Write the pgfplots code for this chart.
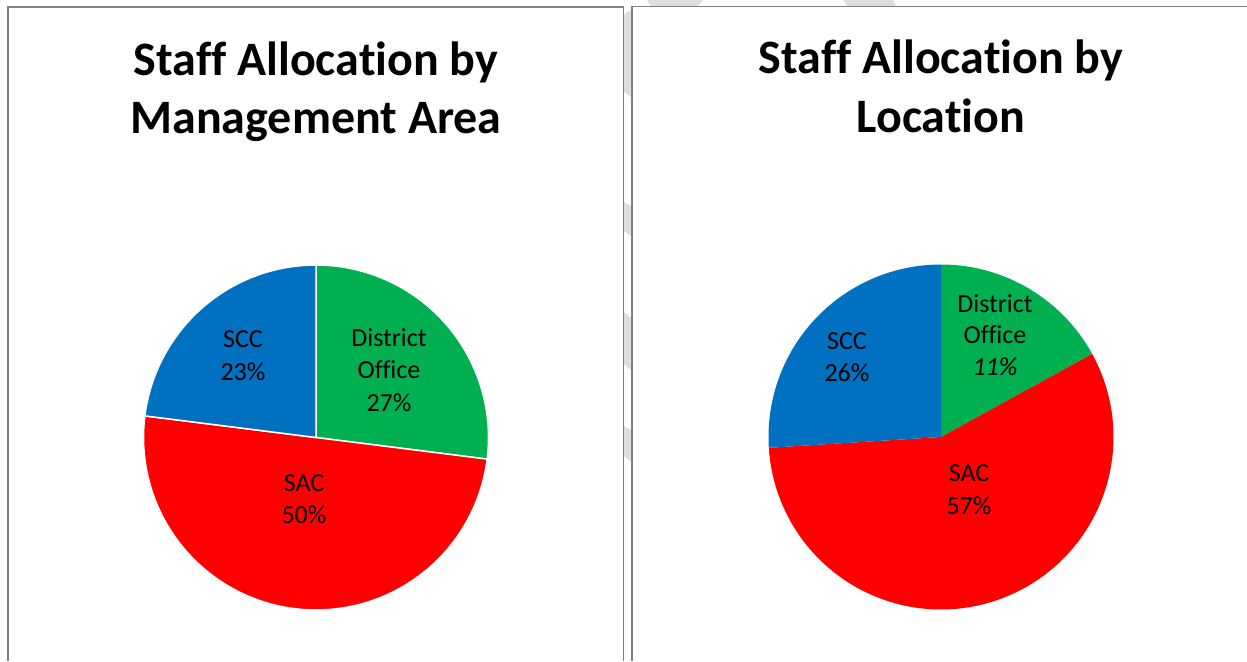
\documentclass[border=0pt]{standalone}
\usepackage{pgfplots}
\pgfplotsset{compat=1.18}
\usepackage{pgfplotstable}
\usepackage{fontspec}
\setmainfont{Carlito}[Ligatures=NoCommon]
\definecolor{pgreen}{RGB}{0,176,80}
\definecolor{pred}{RGB}{255,0,0}
\definecolor{pblue}{RGB}{0,112,192}
\definecolor{framegray}{RGB}{128,128,128}
\definecolor{wm}{RGB}{222,222,222}

% Staff allocation by management area (percent)
\pgfplotstableread{
area value
District 27
SAC 50
SCC 23
}\mgmt
% Staff allocation by location (slice sizes as drawn)
\pgfplotstableread{
area value
District 17
SAC 57
SCC 26
}\loc

\newcommand{\ttl}[3]{\node[anchor=base,font=\fontsize{48}{58}\selectfont\bfseries] at (#1pt,-#2pt) {#3};}
\newcommand{\lbl}[3]{\node[anchor=base,font=\fontsize{26}{32}\selectfont] at (#1pt,-#2pt) {#3};}

\begin{document}
\begin{tikzpicture}
\path[use as bounding box] (0pt,0pt) rectangle (1247pt,-661pt);
\fill[white] (0pt,0pt) rectangle (1247pt,-661pt);

% faint background watermark pieces
\fill[wm] (624pt,-14pt) -- (631pt,-10pt) -- (631pt,-97pt) -- (624pt,-92pt) -- cycle;
\fill[wm] (624pt,-202pt) -- (631pt,-206pt) -- (631pt,-236pt) -- (624pt,-231pt) -- cycle;
\fill[wm] (624pt,-312pt) -- (631pt,-318pt) -- (631pt,-370pt) -- (624pt,-364pt) -- cycle;
\fill[wm] (624pt,-426pt) -- (631pt,-430pt) -- (631pt,-462pt) -- (624pt,-456pt) -- cycle;
\fill[wm] (647pt,0pt) -- (703pt,0pt) -- (697pt,-7pt) -- (651pt,-7pt) -- cycle;
\fill[wm] (843pt,0pt) -- (893pt,0pt) -- (896pt,-7pt) -- (848pt,-7pt) -- cycle;

% panel frames
\draw[framegray,line width=1.6pt] (8pt,-661pt) -- (8pt,-7pt) -- (623.5pt,-7pt) -- (623.5pt,-661pt);
\draw[framegray,line width=1.6pt] (632pt,-661pt) -- (632pt,-6.5pt) -- (1247pt,-6.5pt);

% angles from the data
\pgfplotstablegetelem{0}{value}\of\mgmt \pgfmathsetmacro\ma{90-3.6*\pgfplotsretval}
\pgfplotstablegetelem{1}{value}\of\mgmt \pgfmathsetmacro\mb{\ma-3.6*\pgfplotsretval}
\pgfplotstablegetelem{0}{value}\of\loc \pgfmathsetmacro\la{90-3.6*\pgfplotsretval}
\pgfplotstablegetelem{1}{value}\of\loc \pgfmathsetmacro\lb{\la-3.6*\pgfplotsretval}

\begin{axis}[at={(316pt,-437.5pt)}, anchor=center, scale only axis,
  width=345pt, height=345pt, xmin=-1, xmax=1, ymin=-1, ymax=1,
  hide axis, clip=false]
\addplot[fill=pgreen, draw=white, line width=1.5pt, line join=round, domain=\ma:90, samples=120, variable=\t] ({cos(\t)},{sin(\t)}) -- (axis cs:0,0) -- cycle;
\addplot[fill=pred, draw=white, line width=1.5pt, line join=round, domain=\mb:\ma, samples=160, variable=\t] ({cos(\t)},{sin(\t)}) -- (axis cs:0,0) -- cycle;
\addplot[fill=pblue, draw=white, line width=1.5pt, line join=round, domain=-270:\mb, samples=120, variable=\t] ({cos(\t)},{sin(\t)}) -- (axis cs:0,0) -- cycle;
\end{axis}

\begin{axis}[at={(941pt,-437pt)}, anchor=center, scale only axis,
  width=345pt, height=345pt, xmin=-1, xmax=1, ymin=-1, ymax=1,
  hide axis, clip=false]
\addplot[fill=pgreen, draw=none, domain=\la:90, samples=120, variable=\t] ({cos(\t)},{sin(\t)}) -- (axis cs:0,0) -- cycle;
\addplot[fill=pred, draw=none, domain=\lb:\la, samples=160, variable=\t] ({cos(\t)},{sin(\t)}) -- (axis cs:0,0) -- cycle;
\addplot[fill=pblue, draw=none, domain=-270:\lb, samples=120, variable=\t] ({cos(\t)},{sin(\t)}) -- (axis cs:0,0) -- cycle;
\end{axis}

% titles
\ttl{316}{75}{Staff Allocation by}
\ttl{316}{133}{Management Area}
\ttl{941}{74}{Staff Allocation by}
\ttl{941}{132}{Location}

% slice labels, left
\lbl{243}{347}{SCC}
\lbl{243}{380}{23\%}
\lbl{389}{346}{District}
\lbl{389}{378}{Office}
\lbl{389}{411}{27\%}
\lbl{304}{491}{SAC}
\lbl{304}{523}{50\%}
% slice labels, right
\lbl{995}{312}{District}
\lbl{995}{343}{Office}
\lbl{995}{375}{\itshape 11\%}
\lbl{847}{349}{SCC}
\lbl{847}{381}{26\%}
\lbl{969}{481}{SAC}
\lbl{969}{514}{57\%}
\end{tikzpicture}
\end{document}
